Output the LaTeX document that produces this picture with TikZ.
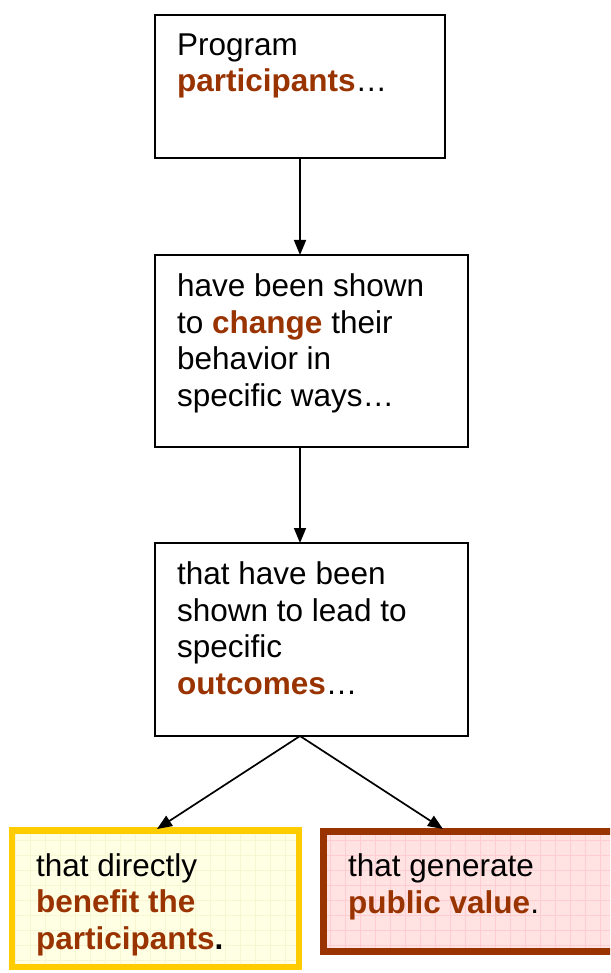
\documentclass[tikz,border=0pt]{standalone}
\usepackage{fontspec}
\setmainfont{Liberation Sans}
\usetikzlibrary{arrows.meta}
\definecolor{accent}{RGB}{153,51,0}
\definecolor{goldline}{RGB}{255,204,0}
\definecolor{goldfill}{RGB}{255,255,228}
\definecolor{goldgrid}{RGB}{248,245,210}
\definecolor{pinkfill}{RGB}{255,226,226}
\definecolor{pinkgrid}{RGB}{255,204,210}
\newcommand{\hl}[1]{\textcolor{accent}{\textbf{#1}}}
\tikzset{
  stepbox/.style={draw=black, line width=1.6pt, fill=white},
  boxtext/.style={anchor=base west, inner sep=0pt, align=left,
    font=\fontsize{31.5}{36.4}\selectfont},
  flow/.style={line width=1.7pt, -{Triangle[length=15pt,width=12pt]}},
}
\begin{document}
\begin{tikzpicture}[x=1pt,y=-1pt]
\useasboundingbox (0,0) rectangle (610,973);
\clip (0,0) rectangle (610,973);
% top three boxes
\path[stepbox] (155,15) rectangle (445,158);
\coordinate (b1s) at (300,158);
\node[boxtext] (t1) at (177,92) {Program\\\hl{participants}…};
\path[stepbox] (155,255) rectangle (468,447);
\coordinate (b2n) at (300,255);
\coordinate (b2s) at (300,447);
\node[boxtext] (t2) at (177,406) {have been shown\\to \hl{change} their\\behavior in\\specific ways…};
\path[stepbox] (155,543) rectangle (468,736);
\coordinate (b3n) at (300,543);
\coordinate (b3s) at (300,736);
\node[boxtext] (t3) at (177,694) {that have been\\shown to lead to\\specific\\\hl{outcomes}…};
% yellow box
\fill[goldfill] (12,830) rectangle (299,967);
\begin{scope}
\clip (12,830) rectangle (299,967);
\draw[goldgrid, line width=0.5pt] (0,830) grid[step=15pt] (300,967);
\end{scope}
\draw[goldline, line width=6.5pt] (12,830.5) rectangle (299,967);
\coordinate (b4n) at (157,829);
\node[boxtext] (t4) at (36,949) {that directly\\\hl{benefit the}\\\hl{participants}\textbf{.}};
% red box
\fill[pinkfill] (323,831) rectangle (614,951);
\begin{scope}
\clip (323,831) rectangle (614,951);
\draw[pinkgrid, line width=0.5pt] (320,825) grid[step=15pt] (615,955);
\end{scope}
\draw[accent, line width=7pt] (323.5,831) rectangle (614,951);
\coordinate (b5n) at (443,829);
\node[boxtext] (t5) at (348,913) {that generate\\\hl{public value}.};
% connectors
\draw[flow] (b1s) -- (b2n);
\draw[flow] (b2s) -- (b3n);
\draw[flow] (b3s) -- (b4n);
\draw[flow] (b3s) -- (b5n);
\end{tikzpicture}
\end{document}
